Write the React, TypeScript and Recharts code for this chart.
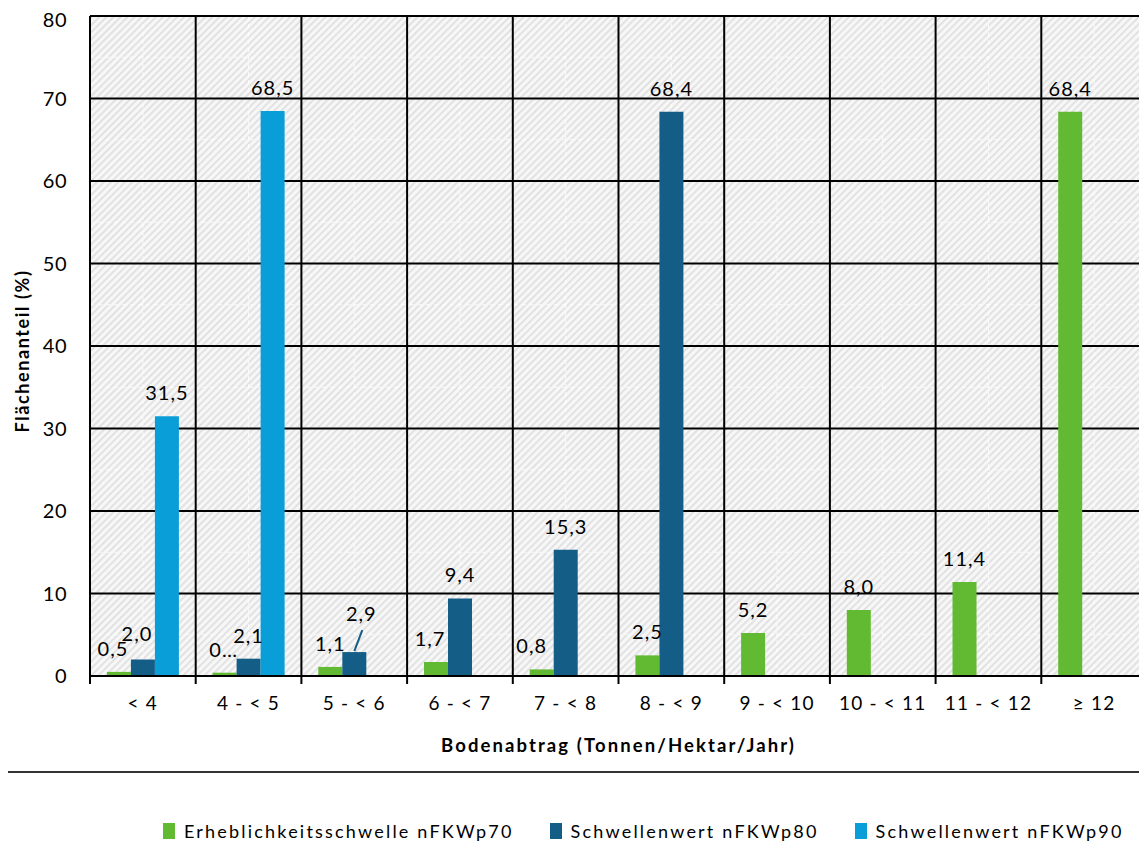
import { BarChart, Bar, XAxis, YAxis, CartesianGrid, LabelList } from 'recharts';

const categories = ['< 4', '4 - < 5', '5 - < 6', '6 - < 7', '7 - < 8', '8 - < 9', '9 - < 10', '10 - < 11', '11 - < 12', '≥ 12'];
const erheblichP70 = [0.5, 0.4, 1.1, 1.7, 0.8, 2.5, 5.2, 8.0, 11.4, 68.4];
const schwelleP80 = [2.0, 2.1, 2.9, 9.4, 15.3, 68.4, null, null, null, null];
const schwelleP90 = [31.5, 68.5, null, null, null, null, null, null, null, null];
const yMax = 80;
const yTicks = [0, 10, 20, 30, 40, 50, 60, 70, 80];
const yMinorTicks = [5, 15, 25, 35, 45, 55, 65, 75];

const seriesNames = {
  p70: 'Erheblichkeitsschwelle nFKWp70',
  p80: 'Schwellenwert nFKWp80',
  p90: 'Schwellenwert nFKWp90',
};
const colors = { p70: '#62b932', p80: '#135d86', p90: '#0a9ed8' };

// label text cut short in the original layout
const shortLabels: Record<string, Record<number, string>> = { p70: { 1: '0…' } };

const data = categories.map((category, i) => ({
  category,
  p70: erheblichP70[i],
  p80: schwelleP80[i],
  p90: schwelleP90[i],
}));

const FONT = "Lato, 'Liberation Sans', sans-serif";

// small nudges so neighbouring labels don't collide
const labelNudge: Record<string, Record<number, [number, number]>> = {
  p70: { 0: [-6, 0], 1: [-1, 0], 3: [-6, 0], 4: [-10, 0] },
  p80: { 0: [-6, -3], 2: [7, -15] },
};

const fmt = (v: number) => v.toFixed(1).replace('.', ',');

const makeLabel = (key: string) => (props: any) => {
  const { x, y, width, value, index } = props;
  if (value == null) return null;
  const [dx, dy] = labelNudge[key]?.[index] ?? [0, 0];
  const cx = Number(x) + Number(width) / 2;
  const top = Number(y);
  const text = shortLabels[key]?.[index] ?? fmt(Number(value));
  const leader = key === 'p80' && index === 2;
  return (
    <g>
      {leader && (
        <line x1={cx} y1={top - 1} x2={cx + 8} y2={top - 22} stroke={colors.p80} strokeWidth={2} />
      )}
      <text
        x={cx + dx}
        y={top - 24 + dy}
        textAnchor="middle"
        dominantBaseline="central"
        fontSize={20}
        fontFamily={FONT}
        letterSpacing={1}
        fill="#000"
      >
        {text}
      </text>
    </g>
  );
};

// vertical grid on the class boundaries instead of the class centres
const boundaryLines = ({ offset }: any) =>
  [...categories.map((_, i) => i), categories.length].map(
    (i) => offset.left + (i * offset.width) / categories.length,
  );

// faint minor grid: class centres and the 5-steps between major ticks
const minorVertical = ({ offset }: any) =>
  categories.map((_, i) => offset.left + ((i + 0.5) * offset.width) / categories.length);
const minorHorizontal = ({ offset }: any) =>
  yMinorTicks.map((v) => offset.top + offset.height * (1 - v / yMax));

// category tick: label in the middle, tick mark on the left boundary (and right one for the last class)
const ClassTick = (props: any) => {
  const { x, y, payload, index } = props;
  const half = payload?.offset ?? 0;
  const axisY = y - 21;
  return (
    <g>
      <line x1={x - half} y1={axisY} x2={x - half} y2={axisY + 8} stroke="#000" strokeWidth={2} />
      {index === categories.length - 1 && (
        <line x1={x + half} y1={axisY} x2={x + half} y2={axisY + 8} stroke="#000" strokeWidth={2} />
      )}
      <text
        x={x}
        y={y}
        dy="0.71em"
        textAnchor="middle"
        fontSize={19}
        fontFamily={FONT}
        letterSpacing={1.2}
        fill="#000"
      >
        {payload.value}
      </text>
    </g>
  );
};

const YTitle = (props: any) => {
  const { viewBox } = props;
  const cy = viewBox.y + viewBox.height / 2 + 5;
  return (
    <text
      x={14}
      y={cy}
      transform={`rotate(-90, 14, ${cy})`}
      textAnchor="middle"
      dominantBaseline="central"
      fontSize={18}
      fontWeight="bold"
      fontFamily={FONT}
      letterSpacing={1.6}
      fill="#000"
    >
      Flächenanteil (%)
    </text>
  );
};

const XTitle = (props: any) => {
  const { viewBox } = props;
  return (
    <text
      x={viewBox.x + viewBox.width / 2}
      y={viewBox.y + 69}
      textAnchor="middle"
      dominantBaseline="central"
      fontSize={18.5}
      fontWeight="bold"
      fontFamily={FONT}
      letterSpacing={2.1}
      fill="#000"
    >
      Bodenabtrag  (Tonnen/Hektar/Jahr)
    </text>
  );
};

export default function App() {
  const keys = ['p70', 'p80', 'p90'] as const;
  return (
    <div style={{ position: 'relative', width: 1139, height: 838 }}>
      <svg width={0} height={0} style={{ position: 'absolute' }}>
        <defs>
          <pattern id="hatch" patternUnits="userSpaceOnUse" width={5} height={5} patternTransform="rotate(45)">
            <rect width={5} height={5} fill="#f7f7f7" />
            <rect width={1.8} height={5} fill="#e0e0e0" />
          </pattern>
        </defs>
      </svg>
      <BarChart
        width={1139}
        height={760}
        data={data}
        margin={{ top: 8, right: 0, bottom: 0, left: 32 }}
        barCategoryGap="16%"
        barGap={0}
      >
        <CartesianGrid fill="url(#hatch)" stroke="none" vertical={false} horizontal={false} />
        <CartesianGrid
          stroke="#ffffff"
          strokeDasharray="4 4"
          strokeOpacity={0.8}
          verticalCoordinatesGenerator={minorVertical}
          horizontalCoordinatesGenerator={minorHorizontal}
        />
        <CartesianGrid
          stroke="#000"
          strokeWidth={2}
          verticalCoordinatesGenerator={boundaryLines}
        />
        <XAxis
          dataKey="category"
          height={92}
          axisLine={{ stroke: '#000', strokeWidth: 2 }}
          tickLine={false}
          tickSize={0}
          tickMargin={21}
          interval={0}
          tick={<ClassTick />}
          label={<XTitle />}
        />
        <YAxis
          domain={[0, yMax]}
          ticks={yTicks}
          width={50}
          axisLine={{ stroke: '#000', strokeWidth: 2 }}
          tickLine={false}
          tickSize={0}
          tickMargin={23}
          tick={{ fontSize: 20, fontFamily: FONT, fill: '#000', letterSpacing: 0.5 }}
          label={<YTitle />}
        />
        {keys.map((k) => (
          <Bar key={k} dataKey={k} name={seriesNames[k]} fill={colors[k]} isAnimationActive={false}>
            <LabelList dataKey={k} content={makeLabel(k)} />
          </Bar>
        ))}
      </BarChart>
      <div
        style={{
          position: 'absolute',
          left: 0,
          top: 763,
          width: 1132,
          borderTop: '2px solid #333',
        }}
      />
      <div
        style={{
          position: 'absolute',
          left: 155,
          top: 812,
          display: 'flex',
          alignItems: 'center',
          gap: 36,
          fontFamily: FONT,
          fontSize: 18,
          letterSpacing: 2.2,
          color: '#000',
        }}
      >
        {keys.map((k) => (
          <div key={k} style={{ display: 'flex', alignItems: 'center' }}>
            <span style={{ width: 12, height: 16, background: colors[k], marginRight: 9 }} />
            <span>{seriesNames[k]}</span>
          </div>
        ))}
      </div>
    </div>
  );
}
